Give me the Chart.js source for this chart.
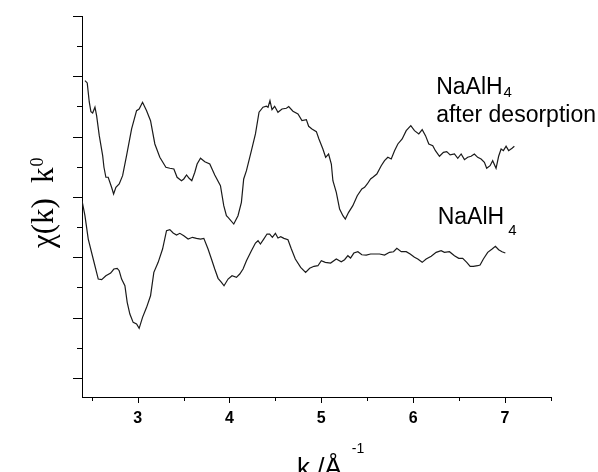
<!DOCTYPE html>
<html>
<head>
<meta charset="utf-8">
<script src="https://cdn.jsdelivr.net/npm/chart.js@4.4.0/dist/chart.umd.min.js"></script>
<style>
  html, body { margin: 0; padding: 0; background: #fff; }
</style>
</head>
<body>
<canvas id="chart" width="598" height="472"></canvas>
<script>
// NaAlH4 after desorption (upper trace)
const kAfter = [2.427,2.452,2.474,2.492,2.511,2.536,2.554,2.583,2.620,2.634,2.655,2.680,2.717,2.739,2.764,2.800,2.837,2.880,2.935,2.989,3.017,3.054,3.098,3.141,3.188,3.242,3.308,3.351,3.395,3.430,3.478,3.503,3.533,3.561,3.590,3.623,3.648,3.685,3.732,3.786,3.840,3.902,3.938,3.967,3.985,4.047,4.093,4.130,4.155,4.185,4.239,4.283,4.322,4.365,4.402,4.420,4.441,4.463,4.492,4.528,4.572,4.620,4.645,4.691,4.746,4.789,4.837,4.862,4.898,4.946,4.974,5.017,5.047,5.079,5.109,5.126,5.163,5.199,5.235,5.261,5.297,5.343,5.391,5.441,5.471,5.500,5.536,5.561,5.604,5.652,5.688,5.724,5.761,5.797,5.833,5.880,5.924,5.974,6.014,6.061,6.098,6.134,6.170,6.213,6.242,6.286,6.329,6.365,6.402,6.449,6.485,6.522,6.558,6.593,6.630,6.666,6.702,6.739,6.775,6.800,6.837,6.865,6.902,6.930,6.957,6.982,7.011,7.039,7.076,7.101];
const chiAfter = [1.929,1.891,1.575,1.415,1.393,1.488,1.348,1.017,0.685,0.493,0.327,0.327,0.161,0.050,0.161,0.216,0.353,0.685,1.128,1.431,1.459,1.570,1.431,1.265,0.879,0.658,0.493,0.476,0.464,0.327,0.270,0.299,0.365,0.310,0.270,0.410,0.547,0.642,0.585,0.547,0.365,0.187,-0.144,-0.310,-0.337,-0.448,-0.310,-0.088,0.299,0.436,0.768,1.045,1.405,1.488,1.504,1.488,1.597,1.448,1.504,1.405,1.459,1.471,1.498,1.421,1.376,1.265,1.282,1.172,1.128,1.083,0.962,0.796,0.658,0.713,0.547,0.270,0.078,-0.199,-0.310,-0.365,-0.254,-0.144,0.022,0.133,0.161,0.216,0.299,0.327,0.381,0.519,0.602,0.658,0.630,0.768,0.879,0.962,1.100,1.182,1.100,1.045,1.116,1.017,0.879,0.851,0.768,0.675,0.741,0.751,0.697,0.713,0.642,0.713,0.619,0.658,0.675,0.713,0.658,0.630,0.575,0.476,0.519,0.602,0.476,0.675,0.796,0.768,0.841,0.768,0.808,0.841];

// NaAlH4 (lower trace)
const kFresh = [2.395,2.427,2.463,2.517,2.572,2.609,2.655,2.707,2.742,2.778,2.800,2.826,2.862,2.887,2.916,2.952,2.989,3.017,3.054,3.098,3.141,3.177,3.224,3.272,3.315,3.351,3.387,3.424,3.460,3.503,3.550,3.598,3.641,3.685,3.721,3.767,3.804,3.840,3.876,3.913,3.941,3.985,4.028,4.076,4.112,4.148,4.185,4.239,4.283,4.311,4.337,4.373,4.409,4.438,4.467,4.500,4.528,4.558,4.593,4.637,4.674,4.717,4.775,4.829,4.873,4.920,4.963,5.000,5.043,5.101,5.163,5.217,5.253,5.289,5.318,5.354,5.398,5.441,5.489,5.536,5.579,5.634,5.688,5.742,5.786,5.822,5.870,5.924,5.967,6.014,6.050,6.098,6.141,6.196,6.250,6.304,6.340,6.395,6.449,6.496,6.539,6.583,6.620,6.655,6.702,6.728,6.764,6.811,6.859,6.895,6.930,6.967,7.003];
const chiFresh = [-0.061,-0.310,-0.697,-1.028,-1.360,-1.371,-1.305,-1.260,-1.194,-1.182,-1.222,-1.360,-1.471,-1.746,-1.940,-2.078,-2.106,-2.177,-1.995,-1.829,-1.637,-1.249,-1.083,-0.862,-0.559,-0.542,-0.597,-0.630,-0.602,-0.642,-0.697,-0.668,-0.685,-0.697,-0.685,-0.862,-1.028,-1.194,-1.348,-1.415,-1.471,-1.360,-1.305,-1.332,-1.277,-1.194,-1.056,-0.891,-0.763,-0.725,-0.779,-0.697,-0.614,-0.614,-0.668,-0.602,-0.680,-0.658,-0.685,-0.708,-0.862,-1.028,-1.166,-1.249,-1.182,-1.149,-1.139,-1.056,-1.083,-1.095,-1.028,-1.073,-1.040,-0.973,-1.012,-0.929,-0.907,-0.957,-0.962,-0.945,-0.945,-0.945,-0.962,-0.917,-0.907,-0.851,-0.907,-0.907,-0.945,-1.000,-1.028,-1.083,-1.028,-0.983,-0.917,-0.891,-0.917,-0.907,-0.973,-1.017,-1.017,-1.083,-1.149,-1.149,-1.139,-1.128,-1.028,-0.917,-0.862,-0.818,-0.874,-0.907,-0.929];

// tick values (y axis carries no labels)
const xMajorTicks = [3, 4, 5, 6, 7];
const xMinorTicks = [2.5, 3.5, 4.5, 5.5, 6.5, 7.5];
const yMajorTicks = [-3, -2, -1, 0, 1, 2, 3];
const yMinorTicks = [-2.5, -1.5, -0.5, 0.5, 1.5, 2.5];

const toPoints = (xs, ys) => xs.map((v, i) => ({ x: v, y: ys[i] }));

const SANS = '"Liberation Sans", Arial, sans-serif';
const SERIF = '"Liberation Serif", "Times New Roman", serif';

// tick marks, axis titles and curve labels
const decor = {
  id: "decor",
  afterDraw(chart) {
    const { ctx, chartArea } = chart;
    const xs = chart.scales.x;
    const ys = chart.scales.y;
    ctx.save();
    ctx.strokeStyle = "#000";
    ctx.lineWidth = 1;
    ctx.beginPath();
    xMajorTicks.forEach((v) => {
      const p = Math.round(xs.getPixelForValue(v)) + 0.5;
      ctx.moveTo(p, chartArea.bottom);
      ctx.lineTo(p, chartArea.bottom + 6);
    });
    xMinorTicks.forEach((v) => {
      const p = Math.round(xs.getPixelForValue(v)) + 0.5;
      ctx.moveTo(p, chartArea.bottom);
      ctx.lineTo(p, chartArea.bottom + 4);
    });
    yMajorTicks.forEach((v) => {
      const p = Math.round(ys.getPixelForValue(v)) + 0.5;
      ctx.moveTo(chartArea.left, p);
      ctx.lineTo(chartArea.left - 9, p);
    });
    yMinorTicks.forEach((v) => {
      const p = Math.round(ys.getPixelForValue(v)) + 0.5;
      ctx.moveTo(chartArea.left, p);
      ctx.lineTo(chartArea.left - 5, p);
    });
    ctx.stroke();

    ctx.fillStyle = "#000";
    ctx.textBaseline = "alphabetic";
    ctx.textAlign = "left";

    // y title: chi(k) k^0, rotated
    ctx.save();
    ctx.translate(53, 248);
    ctx.rotate(-Math.PI / 2);
    ctx.font = "31px " + SERIF;
    let cx = 0;
    ctx.fillText("\u03c7(k)", cx, 0);
    cx += ctx.measureText("\u03c7(k)").width + 15;
    ctx.fillText("k", cx, 0);
    cx += ctx.measureText("k").width + 1;
    ctx.font = "18px " + SERIF;
    ctx.fillText("0", cx, -10);
    ctx.restore();

    // x title: k /Å^-1 (runs off the bottom edge, as in the original)
    ctx.font = "26px " + SANS;
    ctx.fillText("k /\u00c5", 297, 476);
    const w = ctx.measureText("k /\u00c5").width;
    ctx.font = "14px " + SANS;
    ctx.fillText("-1", 297 + w + 10, 453);

    // curve labels
    const lx1 = xs.getPixelForValue(6.25);
    const ly1 = ys.getPixelForValue(1.708);
    ctx.font = "23px " + SANS;
    ctx.fillText("NaAlH", lx1, ly1);
    const w1 = ctx.measureText("NaAlH").width;
    ctx.fillText("after desorption", lx1, ly1 + 28);
    ctx.font = "15px " + SANS;
    ctx.fillText("4", lx1 + w1 + 1, ly1 + 3);

    const lx2 = xs.getPixelForValue(6.267);
    const ly2 = ys.getPixelForValue(-0.448);
    ctx.font = "23px " + SANS;
    ctx.fillText("NaAlH", lx2, ly2);
    const w2 = ctx.measureText("NaAlH").width;
    ctx.font = "15px " + SANS;
    ctx.fillText("4", lx2 + w2 + 4, ly2 + 11);
    ctx.restore();
  }
};

new Chart(document.getElementById("chart"), {
  type: "line",
  data: {
    datasets: [
      {
        label: "NaAlH4 after desorption",
        data: toPoints(kAfter, chiAfter),
        borderColor: "#1a1a1a",
        borderWidth: 1.2,
        pointRadius: 0,
        tension: 0
      },
      {
        label: "NaAlH4",
        data: toPoints(kFresh, chiFresh),
        borderColor: "#1a1a1a",
        borderWidth: 1.2,
        pointRadius: 0,
        tension: 0
      }
    ]
  },
  options: {
    responsive: false,
    animation: false,
    layout: { padding: { top: 16, right: 47, bottom: 0, left: 0 } },
    plugins: { legend: { display: false }, tooltip: { enabled: false } },
    scales: {
      x: {
        type: "linear",
        min: 2.395,
        max: 7.5,
        grid: { display: false, drawTicks: false },
        border: { display: true, color: "#000", width: 1 },
        afterBuildTicks: (scale) => {
          scale.ticks = xMajorTicks.map((v) => ({ value: v }));
        },
        afterFit: (scale) => {
          scale.height = 75;
        },
        ticks: {
          color: "#000",
          padding: 12,
          maxRotation: 0,
          autoSkip: false,
          font: { family: SANS, size: 16, weight: "bold" }
        }
      },
      y: {
        min: -3.315,
        max: 3,
        grid: { display: false, drawTicks: false },
        border: { display: true, color: "#000", width: 1 },
        ticks: { display: false },
        afterFit: (scale) => {
          scale.width = 82;
        }
      }
    }
  },
  plugins: [decor]
});
</script>
</body>
</html>
